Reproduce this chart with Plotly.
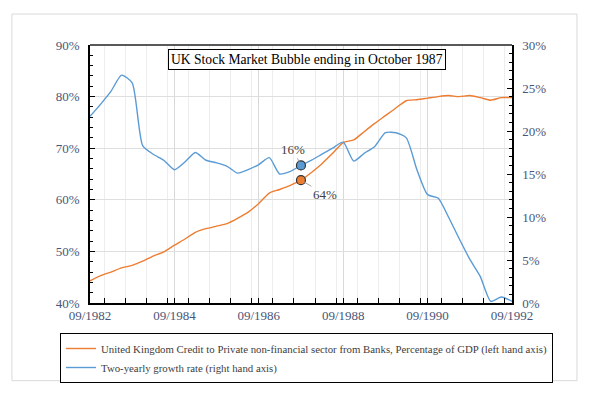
import plotly.graph_objects as go
import pandas as pd

# quarterly observations, 09/1982 .. 09/1992
dates = pd.date_range('1982-09-01', '1992-09-01', freq='3MS')

credit_gdp = [44.3, 45.3, 46.0, 46.8, 47.3, 48.1, 49.1, 49.9, 51.2, 52.4,
              53.7, 54.4, 54.9, 55.4, 56.4, 57.6, 59.3, 61.3, 62.0, 62.8,
              63.8, 65.3, 67.0, 69.0, 71.1, 71.6, 73.2, 74.8, 76.3, 77.8,
              79.2, 79.4, 79.7, 80.0, 80.2, 80.0, 80.2, 79.8, 79.3, 79.8, 79.8]

growth_2y = [21.7, 23.1, 24.6, 26.5, 25.6, 18.3, 17.3, 16.6, 15.5, 16.4,
             17.5, 16.6, 16.3, 15.9, 15.1, 15.5, 16.1, 16.9, 15.0, 15.3,
             16.0, 16.6, 17.3, 18.0, 18.7, 16.5, 17.4, 18.2, 19.8, 19.8,
             19.2, 15.5, 12.6, 12.2, 10.0, 7.5, 5.1, 3.1, 0.2, 0.7, 0.2]

peak_date = '1987-09-01'
peak_credit = 63.8
peak_growth = 16.0

ORANGE = '#ED7D31'
BLUE = '#5B9BD5'
TICK = '#4A5677'
FONT = 'Liberation Serif, Times New Roman, DejaVu Serif, serif'

credit = [v / 100 for v in credit_gdp]
growth = [v / 100 for v in growth_2y]

fig = go.Figure()
fig.add_trace(go.Scatter(
    x=dates, y=credit, mode='lines', line=dict(color=ORANGE, width=1.4, shape='spline', smoothing=0.6),
    name='United Kingdom Credit to Private non-financial sector from Banks, Percentage of GDP (left hand axis)'))
fig.add_trace(go.Scatter(
    x=dates, y=growth, yaxis='y2', mode='lines', line=dict(color=BLUE, width=1.4, shape='spline', smoothing=0.6),
    name='Two-yearly growth rate (right hand axis)'))

# highlighted points in 09/1987
fig.add_trace(go.Scatter(
    x=[peak_date], y=[peak_credit / 100], mode='markers', showlegend=False,
    marker=dict(color=ORANGE, size=9, line=dict(color='#333333', width=1.2))))
fig.add_trace(go.Scatter(
    x=[peak_date], y=[peak_growth / 100], yaxis='y2', mode='markers', showlegend=False,
    marker=dict(color=BLUE, size=9, line=dict(color='#333333', width=1.2))))

fig.add_annotation(x=peak_date, y=peak_growth / 100, yref='y2', text='16%', showarrow=True,
                   arrowhead=0, arrowcolor='#a6a6a6', arrowwidth=1, ax=-8, ay=-16, standoff=4,
                   font=dict(family=FONT, size=13, color='#404040'))
fig.add_annotation(x=peak_date, y=peak_credit / 100, text='64%', showarrow=True,
                   arrowhead=0, arrowcolor='#a6a6a6', arrowwidth=1, ax=24, ay=14, standoff=4,
                   font=dict(family=FONT, size=13, color='#404040'))

fig.add_annotation(x=0.514, y=0.942, xref='paper', yref='paper', xanchor='center', yanchor='middle',
                   showarrow=False, text='UK Stock Market Bubble ending in October 1987',
                   font=dict(family=FONT, size=13.6, color='black'),
                   bgcolor='white', bordercolor='black', borderwidth=1, borderpad=2)

# page body keeps an 8px margin, so the figure is 8px smaller and margins shifted
fig.update_layout(
    width=582, height=386,
    margin=dict(l=82, r=78, t=37, b=90),
    paper_bgcolor='white', plot_bgcolor='white',
    font=dict(family=FONT, size=13, color=TICK),
    xaxis=dict(type='date', range=['1982-09-01', '1992-09-01'], tick0='1982-09-01', dtick='M24',
               tickformat='%m/%Y', showgrid=True, gridcolor='#d9d9d9', gridwidth=1,
               showline=True, linecolor='black', linewidth=1.5,
               ticks='inside', ticklen=5, tickcolor='black',
               minor=dict(dtick='M6', showgrid=True, gridcolor='#ededed', ticks='inside',
                          ticklen=5, tickcolor='black'),
               tickfont=dict(family=FONT, size=13, color=TICK), zeroline=False),
    yaxis=dict(range=[0.4, 0.9], dtick=0.1, tickformat='.0%', showgrid=True, gridcolor='#dedede',
               showline=True, linecolor='black', linewidth=1.5, ticks='inside', ticklen=5,
               tickcolor='black', minor=dict(dtick=0.02, ticks='inside', ticklen=3, tickcolor='black'),
               tickfont=dict(family=FONT, size=13, color=TICK), zeroline=False, ticklabelstandoff=6),
    yaxis2=dict(range=[0, 0.30], dtick=0.05, tickformat='.0%', overlaying='y', side='right',
                showgrid=False, showline=True, linecolor='black', linewidth=1.5, ticks='inside',
                ticklen=5, tickcolor='black', minor=dict(dtick=0.01, ticks='inside', ticklen=3, tickcolor='black'),
                tickfont=dict(family=FONT, size=13, color=TICK), zeroline=False, ticklabelstandoff=6),
    legend=dict(x=-0.071, y=-0.112, xanchor='left', yanchor='top', bordercolor='black', borderwidth=1,
                bgcolor='white', font=dict(family=FONT, size=10.8, color='#404040'),
                tracegroupgap=0, itemwidth=30),
    showlegend=True,
)

# top edge of the plot area and the light outer frame
fig.add_shape(type='line', xref='paper', yref='paper', x0=0, x1=1, y0=1, y1=1,
              line=dict(color='#595959', width=2))
fig.add_shape(type='rect', xref='paper', yref='paper', x0=-0.185, x1=1.154, y0=-0.301, y1=1.12,
              line=dict(color='#d9d9d9', width=1), layer='below')

fig.write_html('out.html')
